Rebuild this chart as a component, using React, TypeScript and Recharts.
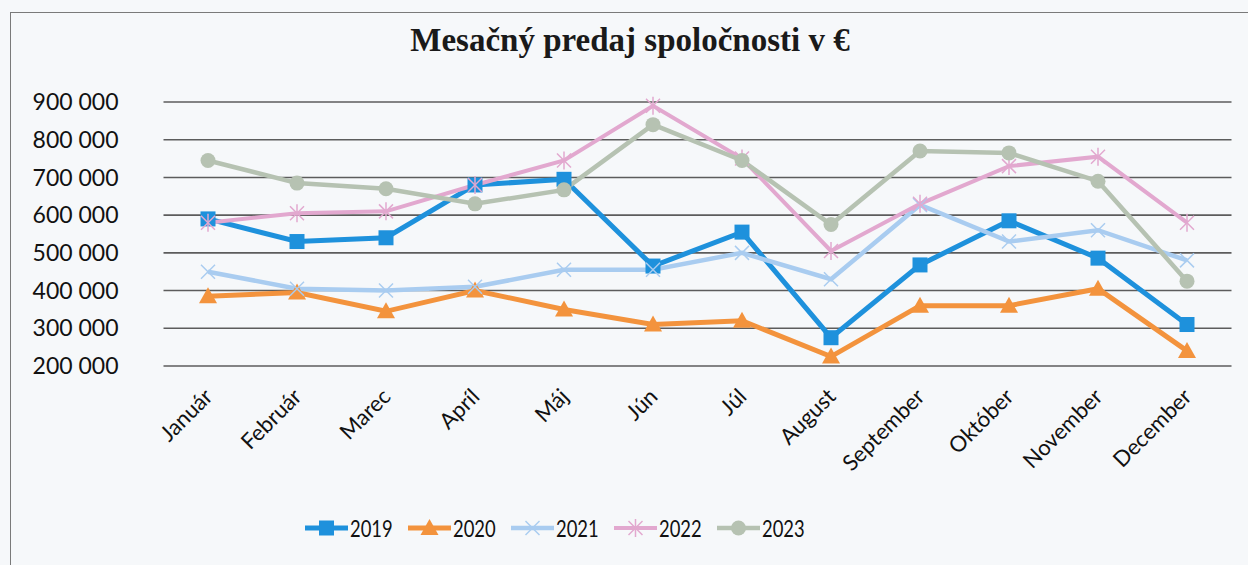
import React from "react";
import { LineChart, Line, XAxis, YAxis, CartesianGrid } from "recharts";

const months = ["Január", "Február", "Marec", "Apríl", "Máj", "Jún", "Júl", "August", "September", "Október", "November", "December"];
const s2019 = [590000, 530000, 540000, 680000, 695000, 465000, 555000, 275000, 468000, 585000, 486000, 310000];
const s2020 = [385000, 395000, 345000, 400000, 350000, 310000, 320000, 225000, 360000, 360000, 405000, 240000];
const s2021 = [450000, 405000, 400000, 410000, 455000, 455000, 500000, 430000, 627000, 530000, 560000, 480000];
const s2022 = [580000, 605000, 610000, 680000, 745000, 890000, 750000, 505000, 630000, 730000, 755000, 580000];
const s2023 = [745000, 685000, 670000, 630000, 667000, 840000, 745000, 575000, 770000, 765000, 690000, 425000];
const yTicks = [200000, 300000, 400000, 500000, 600000, 700000, 800000, 900000];
const title = "Mesačný predaj spoločnosti v €";

const series = [
  { key: "2019", values: s2019, color: "#1e91dc", width: 5, marker: "square" },
  { key: "2020", values: s2020, color: "#f3933d", width: 5, marker: "triangle" },
  { key: "2021", values: s2021, color: "#a9ccf0", width: 4.5, marker: "x" },
  { key: "2022", values: s2022, color: "#e2a8cf", width: 4, marker: "star" },
  { key: "2023", values: s2023, color: "#b6c2b2", width: 4.5, marker: "circle" },
];

const data = months.map((m, i) => {
  const row: any = { month: m };
  series.forEach((s) => (row[s.key] = s.values[i]));
  return row;
});

function Marker({ cx, cy, type, color }: any) {
  if (cx == null || cy == null) return null;
  switch (type) {
    case "square":
      return <rect x={cx - 7.5} y={cy - 7.5} width={15} height={15} fill={color} />;
    case "triangle":
      return <polygon points={`${cx},${cy - 9} ${cx + 9},${cy + 7} ${cx - 9},${cy + 7}`} fill={color} />;
    case "x":
      return (
        <g stroke={color} strokeWidth={1.5}>
          <line x1={cx - 7} y1={cy - 7} x2={cx + 7} y2={cy + 7} />
          <line x1={cx - 7} y1={cy + 7} x2={cx + 7} y2={cy - 7} />
        </g>
      );
    case "star":
      return (
        <g stroke={color} strokeWidth={1.5}>
          <line x1={cx - 7} y1={cy - 7} x2={cx + 7} y2={cy + 7} />
          <line x1={cx - 7} y1={cy + 7} x2={cx + 7} y2={cy - 7} />
          <line x1={cx} y1={cy - 9} x2={cx} y2={cy + 9} />
        </g>
      );
    default:
      return <circle cx={cx} cy={cy} r={7.5} fill={color} />;
  }
}

function XTick({ x, y, payload }: any) {
  const ax = x + 6;
  const ay = y + 24;
  return (
    <text
      x={ax}
      y={ay}
      transform={`rotate(-45, ${ax}, ${ay})`}
      textAnchor="end"
      fontFamily="Lato, 'Open Sans', sans-serif"
      fontSize={22}
      fill="#111"
    >
      {payload.value}
    </text>
  );
}

const fmt = (v: number) => {
  const s = String(v);
  return s.replace(/\B(?=(\d{3})+(?!\d))/g, " ");
};

export default function App() {
  return (
    <div style={{ position: "absolute", left: 0, top: 0, width: 1248, height: 565, overflow: "hidden", background: "#f6f8fa" }}>
      <div style={{ position: "absolute", left: 10, top: 12, width: 1300, height: 600, borderLeft: "1.5px solid #7a7a7a", borderTop: "1.5px solid #7a7a7a" }} />
      <div
        style={{
          position: "absolute",
          left: 0,
          width: 1260,
          top: 22,
          textAlign: "center",
          fontFamily: "'Liberation Serif', 'Times New Roman', serif",
          fontWeight: "bold",
          fontSize: 33,
          color: "#1a1a1a",
        }}
      >
        {title}
      </div>
      <div style={{ position: "absolute", left: 0, top: 0 }}>
        <LineChart width={1248} height={565} data={data} margin={{ top: 102, right: 16.5, left: 0, bottom: 0 }}>
          <CartesianGrid vertical={false} stroke="#5c5c5c" strokeWidth={1.6} />
          <XAxis
            dataKey="month"
            axisLine={false}
            tickLine={false}
            tick={<XTick />}
            interval={0}
            height={199}
            padding={{ left: 44.5, right: 44.5 }}
          />
          <YAxis
            domain={[200000, 900000]}
            ticks={yTicks}
            width={163.5}
            axisLine={false}
            tickLine={false}
            tickSize={0}
            tickMargin={45}
            tickFormatter={fmt}
            tick={{ fontFamily: "Lato, 'Open Sans', sans-serif", fontSize: 23, fill: "#111" }}
            interval={0}
          />
          {series.map((s) => (
            <Line
              key={s.key}
              dataKey={s.key}
              stroke={s.color}
              strokeWidth={s.width}
              isAnimationActive={false}
              dot={(p: any) => <Marker key={`${s.key}-${p.index}`} cx={p.cx} cy={p.cy} type={s.marker} color={s.color} />}
              activeDot={false}
            />
          ))}
        </LineChart>
      </div>
      <div style={{ position: "absolute", left: 305, top: 514, display: "flex" }}>
        {series.map((s) => (
          <div key={s.key} style={{ display: "flex", alignItems: "center", width: 103 }}>
            <svg width={43} height={28}>
              <line x1={0} y1={14} x2={43} y2={14} stroke={s.color} strokeWidth={s.width} />
              <Marker cx={21.5} cy={14} type={s.marker} color={s.color} />
            </svg>
            <span
              style={{
                display: "inline-block",
                fontFamily: "Lato, 'Open Sans', sans-serif",
                fontSize: 23,
                color: "#111",
                marginLeft: 2,
                transform: "scaleX(0.8)",
                transformOrigin: "left center",
              }}
            >
              {s.key}
            </span>
          </div>
        ))}
      </div>
    </div>
  );
}
